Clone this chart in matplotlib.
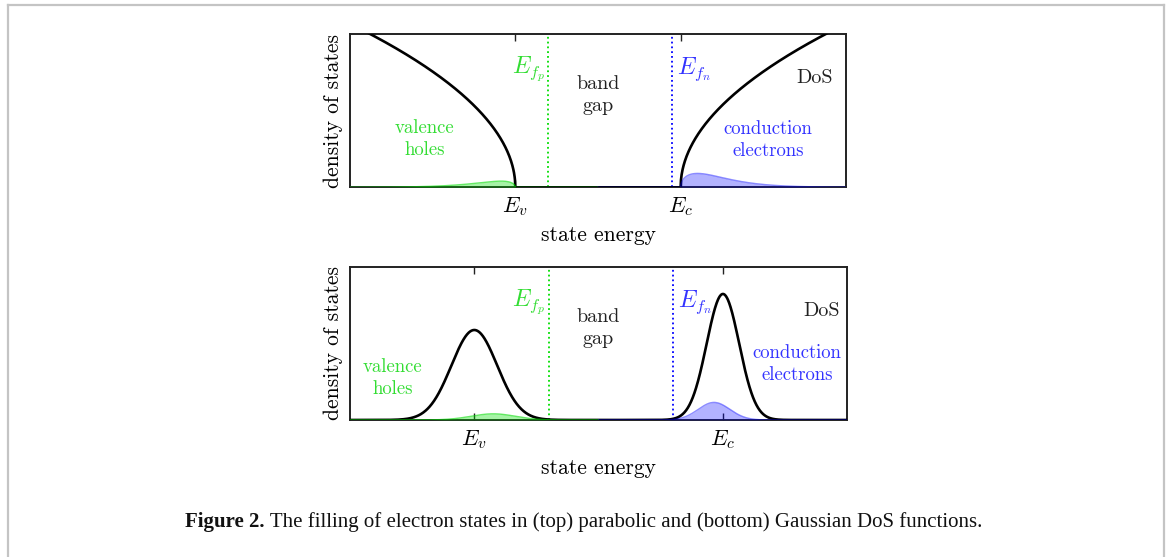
import numpy as np
import matplotlib
matplotlib.use("Agg")
import matplotlib.pyplot as plt
from matplotlib.lines import Line2D

plt.rcParams['mathtext.fontset'] = 'cm'
plt.rcParams['axes.unicode_minus'] = False

# band edges, quasi-Fermi levels and thermal energy (arbitrary energy units)
E_range = [0.0, 3.0]
Ev_para, Ec_para = 1.0, 2.0          # parabolic bands
Ev_gauss, Ec_gauss = 0.75, 2.25      # Gaussian bands
Efp, Efn = 1.2, 1.95
kT = 0.15
sigma_v, sigma_c = 0.138, 0.098      # Gaussian widths
amp_v, amp_c = 0.587, 0.822          # Gaussian peak heights
gap_split = 1.5                      # holes drawn left of this, electrons right
ylim_para = 0.935
ylim_gauss = 1.0
tick_labels = [r'$E_v$', r'$E_c$']

GREEN = '#00dd00'
GREEN_TXT = '#33dd33'
BLUE = '#0000ff'
BLUE_TXT = '#3333ff'
TXT = 'cmr10'
FS = 13.5
FS_AX = 15.5

E = np.linspace(E_range[0], E_range[1], 1501)


def fermi(e, ef):
    return 1.0 / (1.0 + np.exp((e - ef) / kT))


def draw_panel(ax, dos, ev, ec, ylim, labels):
    holes = dos * (1 - fermi(E, Efp))
    elec = dos * fermi(E, Efn)
    lo = E < gap_split
    hi = ~lo

    ax.plot(E, dos, color='black', lw=1.9, zorder=3)
    ax.fill_between(E[lo], 0, holes[lo], color=GREEN, alpha=0.35, lw=0, zorder=4)
    ax.plot(E[lo], holes[lo], color=GREEN, lw=1.0, alpha=0.6, zorder=4)
    ax.fill_between(E[hi], 0, elec[hi], color=BLUE, alpha=0.3, lw=0, zorder=4)
    ax.plot(E[hi], elec[hi], color=BLUE, lw=1.0, alpha=0.45, zorder=4)

    ax.axvline(Efp, color=GREEN, ls=':', lw=1.3, zorder=2)
    ax.axvline(Efn, color=BLUE, ls=':', lw=1.3, zorder=2)

    ax.set_xlim(E_range)
    ax.set_ylim(0, ylim)
    ax.set_xticks([ev, ec])
    ax.set_xticklabels(tick_labels, fontsize=16)
    ax.set_yticks([])
    ax.tick_params(axis='x', direction='in', top=True, length=5, width=1.0,
                   color='#222222', pad=6)
    for s in ax.spines.values():
        s.set_linewidth(1.4)
        s.set_color('#222222')
    ax.set_xlabel('state energy', fontfamily=TXT, fontsize=FS_AX, labelpad=5)
    ax.set_ylabel('density of states', fontfamily=TXT, fontsize=FS_AX, labelpad=5)

    tr = ax.transAxes
    (vx, vy), (bx, by), (px, py), (nx, ny), (dx, dy), (cx, cy) = labels
    ax.text(vx, vy, 'valence\nholes', transform=tr, ha='center', va='center',
            color=GREEN_TXT, fontfamily=TXT, fontsize=FS, linespacing=1.25)
    ax.text(bx, by, 'band\ngap', transform=tr, ha='center', va='center',
            color='#222222', fontfamily=TXT, fontsize=FS + 1, linespacing=1.3)
    ax.text(px, py, r'$E_{f_p}$', transform=tr, ha='right', va='center',
            color=GREEN_TXT, fontsize=17)
    ax.text(nx, ny, r'$E_{f_n}$', transform=tr, ha='left', va='center',
            color=BLUE_TXT, fontsize=17)
    ax.text(dx, dy, 'DoS', transform=tr, ha='center', va='center',
            color='#222222', fontfamily=TXT, fontsize=FS + 1)
    ax.text(cx, cy, 'conduction\nelectrons', transform=tr, ha='center', va='center',
            color=BLUE_TXT, fontfamily=TXT, fontsize=FS, linespacing=1.25)


fig = plt.figure(figsize=(11.67, 5.57), dpi=100)

# parabolic density of states
ax1 = fig.add_axes([0.2999, 0.6637, 0.4250, 0.2747])
dos_para = np.sqrt(np.clip(Ev_para - E, 0, None)) + np.sqrt(np.clip(E - Ec_para, 0, None))
draw_panel(ax1, dos_para, Ev_para, Ec_para, ylim_para,
           [(0.151, 0.316), (0.500, 0.603), (0.393, 0.770),
            (0.660, 0.770), (0.937, 0.714), (0.843, 0.309)])

# Gaussian density of states
ax2 = fig.add_axes([0.2999, 0.2460, 0.4261, 0.2752])
dos_gauss = (amp_v * np.exp(-(E - Ev_gauss) ** 2 / (2 * sigma_v ** 2))
             + amp_c * np.exp(-(E - Ec_gauss) ** 2 / (2 * sigma_c ** 2)))
draw_panel(ax2, dos_gauss, Ev_gauss, Ec_gauss, ylim_gauss,
           [(0.085, 0.274), (0.499, 0.600), (0.393, 0.765),
            (0.660, 0.770), (0.949, 0.711), (0.899, 0.365)])

# page frame
fcol = '#c4c4c4'
fig.add_artist(Line2D([7.5 / 1167, 1163.5 / 1167], [1 - 4.5 / 557] * 2,
                      transform=fig.transFigure, color=fcol, lw=1.6))
fig.add_artist(Line2D([7.5 / 1167] * 2, [0, 1 - 4.5 / 557],
                      transform=fig.transFigure, color=fcol, lw=1.6))
fig.add_artist(Line2D([1163.5 / 1167] * 2, [0, 1 - 4.5 / 557],
                      transform=fig.transFigure, color=fcol, lw=1.6))

# caption: bold lead-in followed by regular text, centred as one line
cap_y = 1 - 522 / 557
cap_font = 'Liberation Serif'
cap_fs = 15
t_bold = fig.text(0, cap_y, 'Figure 2.', fontfamily=cap_font, fontweight='bold',
                  fontsize=cap_fs, ha='left', va='center', color='#111111')
t_rest = fig.text(0, cap_y, ' The filling of electron states in (top) parabolic and '
                  '(bottom) Gaussian DoS functions.', fontfamily=cap_font,
                  fontsize=cap_fs, ha='left', va='center', color='#111111')
renderer = fig.canvas.get_renderer()
w_bold = t_bold.get_window_extent(renderer).width / fig.bbox.width
w_rest = t_rest.get_window_extent(renderer).width / fig.bbox.width
x0 = 0.5 - (w_bold + w_rest) / 2
t_bold.set_x(x0)
t_rest.set_x(x0 + w_bold)

fig.savefig('out.png', dpi=100)
